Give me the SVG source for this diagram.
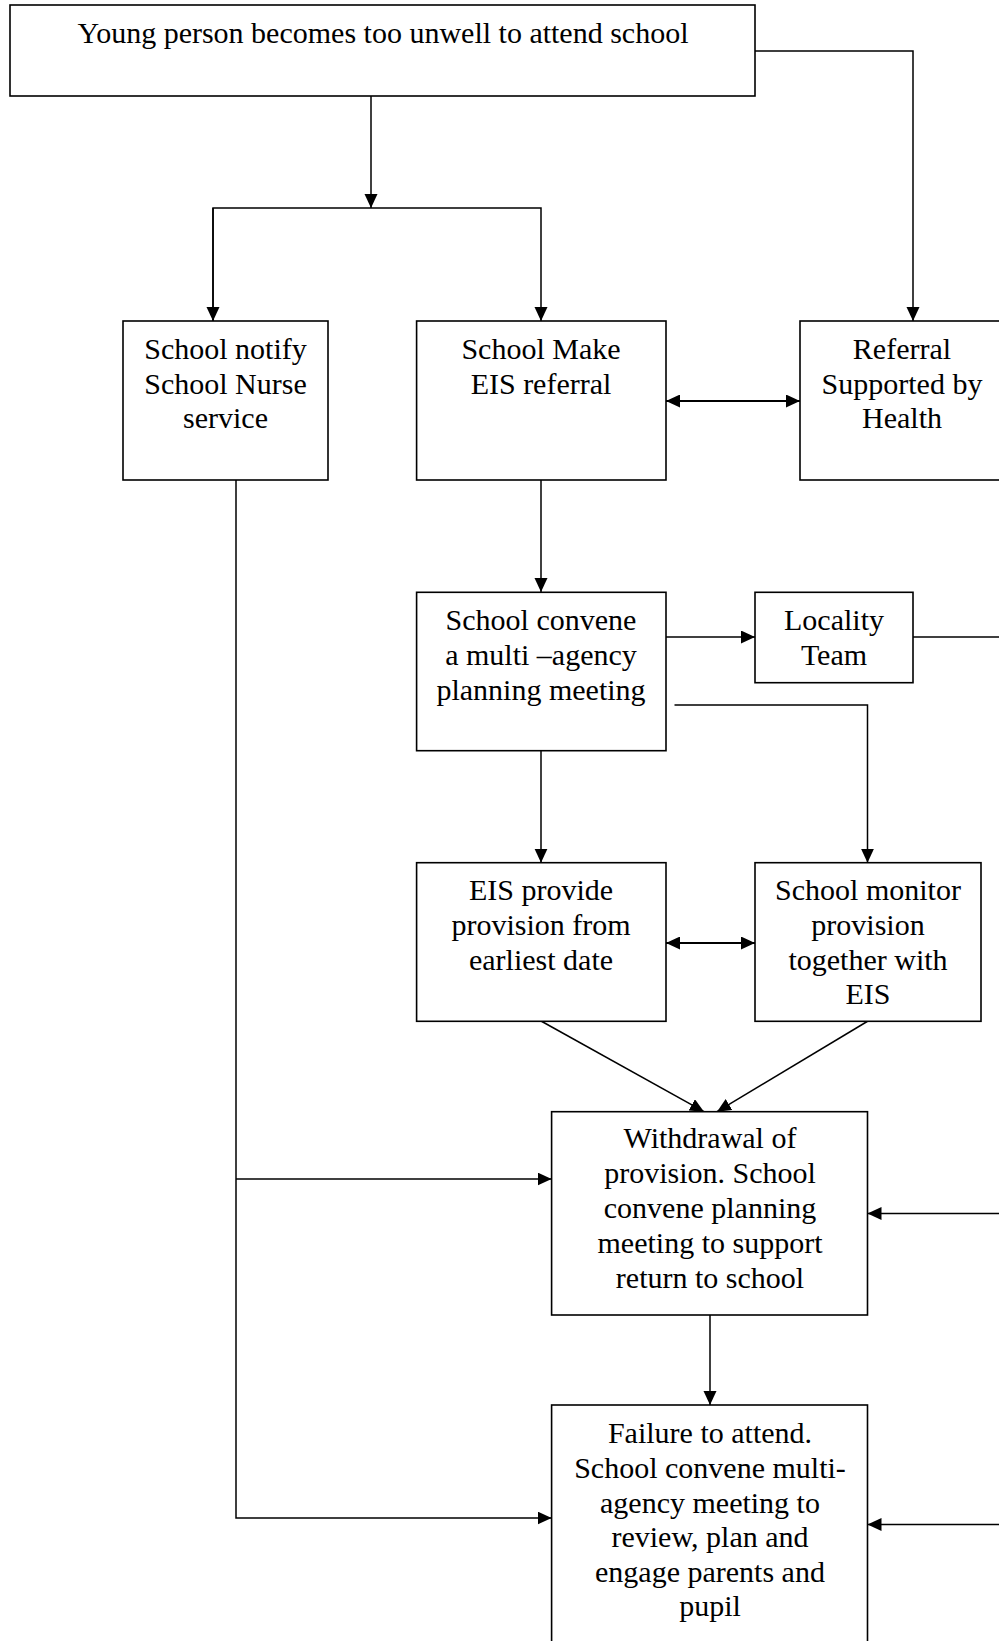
<svg xmlns="http://www.w3.org/2000/svg" width="999" height="1641" viewBox="0 0 999 1641">
<style>
.box{fill:#fff;stroke:#000;stroke-width:1.6}
.t{font-family:"Liberation Serif","Times New Roman",serif;font-size:30px;fill:#000;text-anchor:middle}
.c{fill:none;stroke:#000;stroke-width:1.5}
.d{fill:none;stroke:#000;stroke-width:2.2}
</style>
<defs>
<marker id="ah" markerUnits="userSpaceOnUse" markerWidth="14" markerHeight="14" refX="14" refY="6.5" orient="auto">
<path d="M0,0 L14,6.5 L0,13 z" fill="#000"/>
</marker>
<marker id="as" markerUnits="userSpaceOnUse" markerWidth="14" markerHeight="14" refX="0" refY="6.5" orient="auto">
<path d="M14,0 L0,6.5 L14,13 z" fill="#000"/>
</marker>
</defs>
<g id="connectors">
<path class="c" d="M371,96 V208" marker-end="url(#ah)"/>
<path class="c" d="M213,321 V208 H541 V321" marker-end="url(#ah)"/>
<path class="c" d="M213,208 V321" marker-end="url(#ah)"/>
<path class="c" d="M755,51 H913 V321" marker-end="url(#ah)"/>
<path class="d" d="M666,401 H800" marker-start="url(#as)" marker-end="url(#ah)"/>
<path class="c" d="M541,480 V592" marker-end="url(#ah)"/>
<path class="c" d="M236,480 V1518 H551.6" marker-end="url(#ah)"/>
<path class="c" d="M236,1179 H551.6" marker-end="url(#ah)"/>
<path class="c" d="M664,637 H755" marker-end="url(#ah)"/>
<path class="c" d="M913,637 H1010"/>
<path class="c" d="M674.5,705 H867.5 V862.7" marker-end="url(#ah)"/>
<path class="c" d="M541,751 V862.7" marker-end="url(#ah)"/>
<path class="d" d="M666,943 H755" marker-start="url(#as)" marker-end="url(#ah)"/>
<path class="c" d="M541,1021 L704,1111.7" marker-end="url(#ah)"/>
<path class="c" d="M868,1021 L717,1111.7" marker-end="url(#ah)"/>
<path class="c" d="M1010,1213.5 H867.5" marker-end="url(#ah)"/>
<path class="c" d="M1010,1524.5 H867.5" marker-end="url(#ah)"/>
<path class="c" d="M710,1315 V1405" marker-end="url(#ah)"/>
</g>
<g id="n-start">
<rect class="box" x="10" y="5" width="745" height="91"/>
<text class="t" x="383" y="43">Young person becomes too unwell to attend school</text>
</g>
<g id="n-nurse">
<rect class="box" x="123" y="321" width="205" height="159"/>
<text class="t" x="225.5" y="359">School notify</text>
<text class="t" x="225.5" y="394">School Nurse</text>
<text class="t" x="225.5" y="428">service</text>
</g>
<g id="n-eisref">
<rect class="box" x="416.6" y="321" width="249.4" height="159"/>
<text class="t" x="541" y="359">School Make</text>
<text class="t" x="541" y="394">EIS referral</text>
</g>
<g id="n-health">
<rect class="box" x="800" y="321" width="220" height="159"/>
<text class="t" x="902" y="359">Referral</text>
<text class="t" x="902" y="394">Supported by</text>
<text class="t" x="902" y="428">Health</text>
</g>
<g id="n-convene">
<rect class="box" x="416.6" y="592.3" width="249.4" height="158.4"/>
<text class="t" x="541" y="630">School convene</text>
<text class="t" x="541" y="665">a multi –agency</text>
<text class="t" x="541" y="700">planning meeting</text>
</g>
<g id="n-locality">
<rect class="box" x="755" y="592.3" width="158" height="90.4"/>
<text class="t" x="834" y="630">Locality</text>
<text class="t" x="834" y="665">Team</text>
</g>
<g id="n-eisprov">
<rect class="box" x="416.6" y="862.7" width="249.4" height="158.6"/>
<text class="t" x="541" y="900">EIS provide</text>
<text class="t" x="541" y="935">provision from</text>
<text class="t" x="541" y="970">earliest date</text>
</g>
<g id="n-monitor">
<rect class="box" x="755" y="862.7" width="226" height="158.6"/>
<text class="t" x="868" y="900">School monitor</text>
<text class="t" x="868" y="935">provision</text>
<text class="t" x="868" y="970">together with</text>
<text class="t" x="868" y="1004">EIS</text>
</g>
<g id="n-withdrawal">
<rect class="box" x="551.6" y="1111.7" width="315.9" height="203.3"/>
<text class="t" x="710" y="1148">Withdrawal of</text>
<text class="t" x="710" y="1183">provision. School</text>
<text class="t" x="710" y="1218">convene planning</text>
<text class="t" x="710" y="1253">meeting to support</text>
<text class="t" x="710" y="1288">return to school</text>
</g>
<g id="n-failure">
<rect class="box" x="551.6" y="1405" width="315.9" height="260"/>
<text class="t" x="710" y="1443">Failure to attend.</text>
<text class="t" x="710" y="1478">School convene multi-</text>
<text class="t" x="710" y="1513">agency meeting to</text>
<text class="t" x="710" y="1547">review, plan and</text>
<text class="t" x="710" y="1582">engage parents and</text>
<text class="t" x="710" y="1616">pupil</text>
</g>
</svg>
